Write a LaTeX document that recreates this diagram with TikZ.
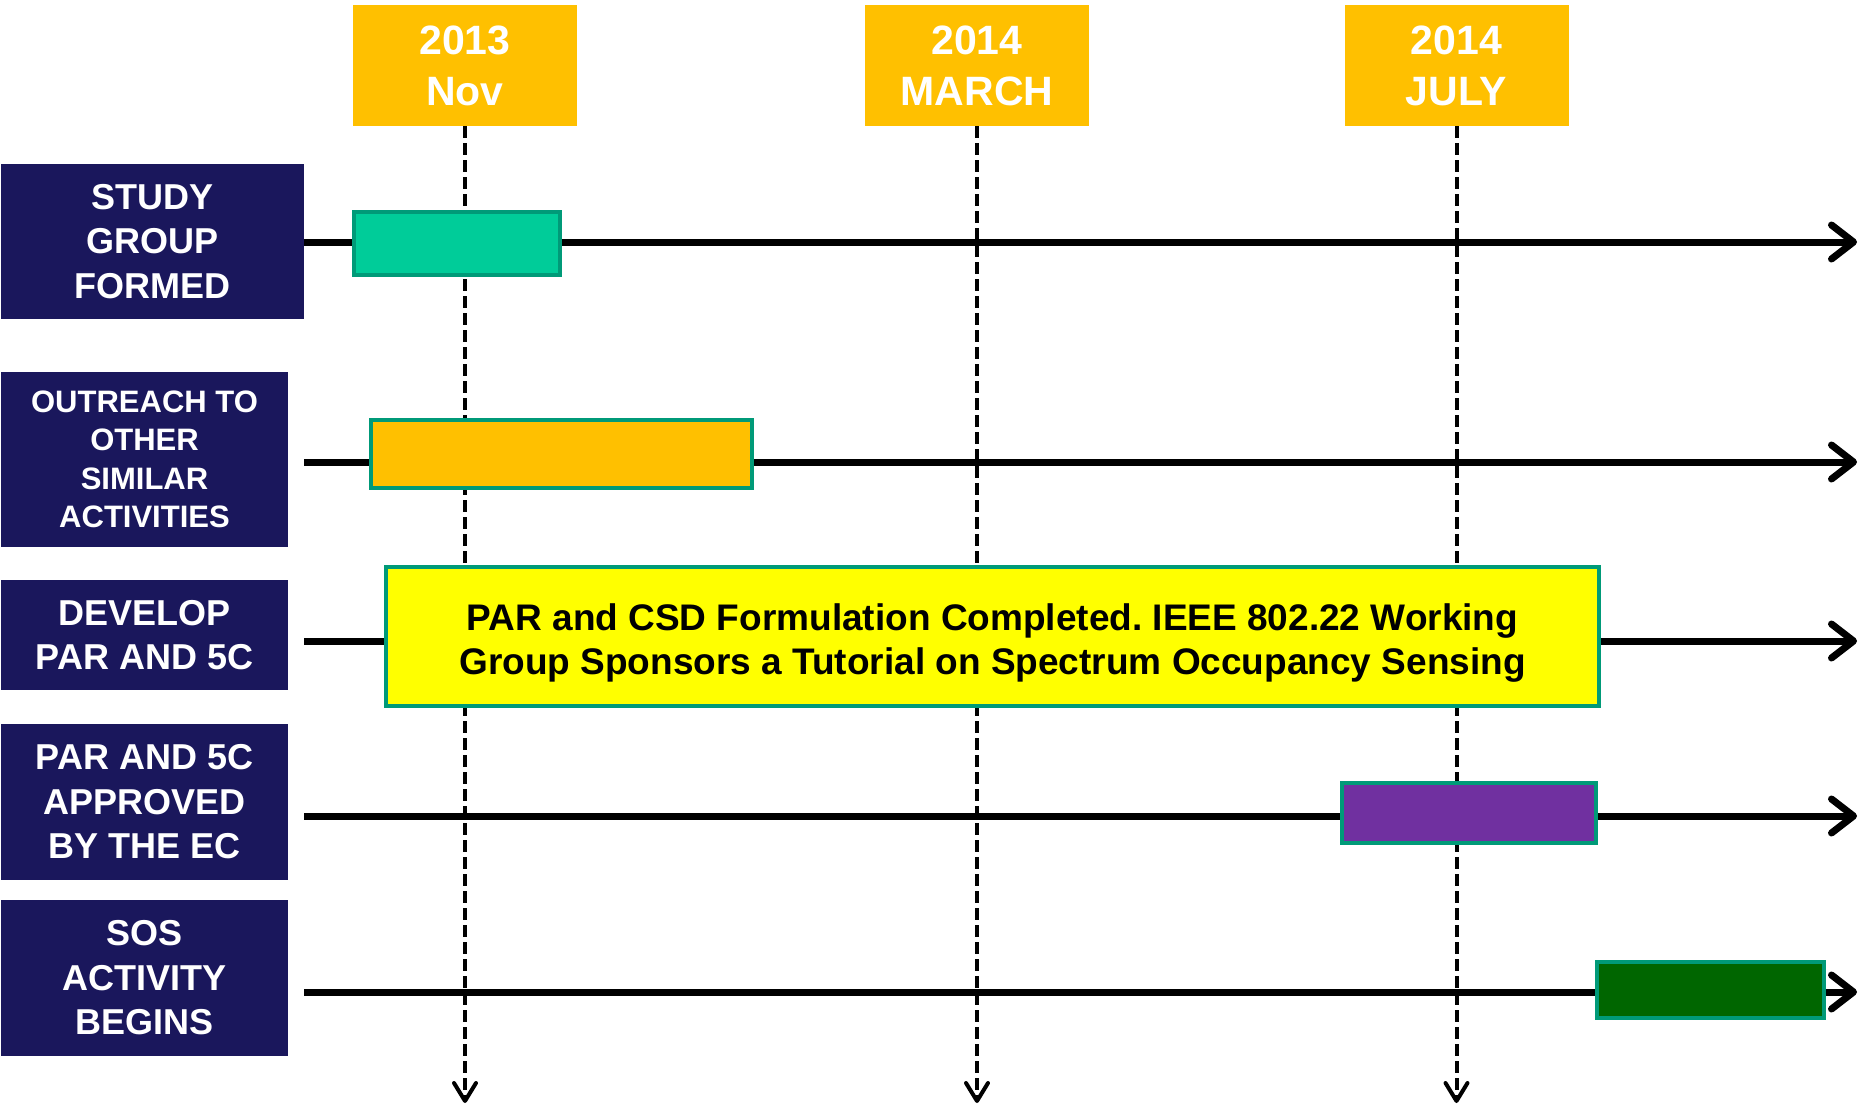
\documentclass[tikz,border=0pt]{standalone}
\usepackage{fontspec}
\setmainfont{Liberation Sans}
\usetikzlibrary{arrows.meta}
\definecolor{navy}{HTML}{1A175C}
\definecolor{gold}{HTML}{FFC000}
\definecolor{barline}{HTML}{009A78}
\definecolor{tealfill}{HTML}{00CC99}
\definecolor{purp}{HTML}{7030A0}
\definecolor{dgreen}{HTML}{006600}
\definecolor{yell}{HTML}{FFFF00}
\frenchspacing
\begin{document}
\begin{tikzpicture}[x=1pt,y=-1pt,
 datebox/.style={fill=gold, text=white, font=\fontsize{41}{51}\selectfont\bfseries, minimum width=224pt, minimum height=121pt, inner sep=0pt, align=center},
 labelbox/.style={fill=navy, text=white, font=\fontsize{36}{44.5}\selectfont\bfseries, inner sep=0pt, align=center, minimum width=287pt},
 bar/.style={draw=barline, line width=4pt, inner sep=0pt},
 bartext/.style={align=center, inner sep=0pt, font=\fontsize{37}{44}\selectfont\bfseries},
 timeline/.style={line width=7pt, -{Straight Barb[length=22pt,width=34pt,round]}},
 marker/.style={dash pattern=on 12pt off 5pt, line width=4pt, -{Straight Barb[length=18pt,width=22pt,round]}}
]
\useasboundingbox (0,0) rectangle (1864,1111);

% date boxes
\node[datebox] (d1) at (465,65.5) {2013\\Nov};
\node[datebox] (d2) at (977,65.5) {2014\\MARCH};
\node[datebox] (d3) at (1456.5,65.5) {2014\\JULY};

% dashed markers
\coordinate (f1) at (465,1103);
\coordinate (f2) at (977,1103);
\coordinate (f3) at (1456.5,1103);
\draw[marker] (d1.south) -- (f1);
\draw[marker] (d2.south) -- (f2);
\draw[marker] (d3.south) -- (f3);

% label boxes
\node[labelbox, minimum width=303pt, minimum height=155pt] (l1) at (152.5,241.5) {STUDY\\GROUP\\FORMED};
\node[labelbox, minimum height=175pt, font=\fontsize{31}{38.5}\selectfont\bfseries] (l2) at (144.5,459.5) {OUTREACH TO\\OTHER\\SIMILAR\\ACTIVITIES};
\node[labelbox, minimum height=110pt] (l3) at (144.5,635) {DEVELOP\\PAR AND 5C};
\node[labelbox, minimum height=156pt] (l4) at (144.5,802) {PAR AND 5C\\APPROVED\\BY THE EC};
\node[labelbox, minimum height=156pt] (l5) at (144.5,978) {SOS\\ACTIVITY\\BEGINS};

% timelines
\coordinate (s1) at (304,242);  \coordinate (e1) at (1857,242);
\coordinate (s2) at (304,462);  \coordinate (e2) at (1857,462);
\coordinate (s3) at (304,641);  \coordinate (e3) at (1857,641);
\coordinate (s4) at (304,816);  \coordinate (e4) at (1857,816);
\coordinate (s5) at (304,992);  \coordinate (e5) at (1857,992);
\draw[timeline] (s1) -- (e1);
\draw[timeline] (s2) -- (e2);
\draw[timeline] (s3) -- (e3);
\draw[timeline] (s4) -- (e4);
\draw[timeline] (s5) -- (e5);

% bars
\node[bar, fill=tealfill, minimum width=206pt, minimum height=63pt] (b1) at (457,243.5) {};
\node[bar, fill=gold, minimum width=381pt, minimum height=68pt] (b2) at (561.5,454) {};
\node[bar, fill=yell, minimum width=1213pt, minimum height=139pt] (b3) at (992.5,636.5) {};
\node[bartext] (t3) at ([yshift=-7pt]b3.center) {PAR and CSD Formulation Completed. IEEE 802.22 Working\\Group Sponsors a Tutorial on Spectrum Occupancy Sensing};
\node[bar, fill=purp, minimum width=254pt, minimum height=60pt] (b4) at (1469,813) {};
\node[bar, fill=dgreen, minimum width=227pt, minimum height=56pt] (b5) at (1710.5,990) {};
\end{tikzpicture}
\end{document}
